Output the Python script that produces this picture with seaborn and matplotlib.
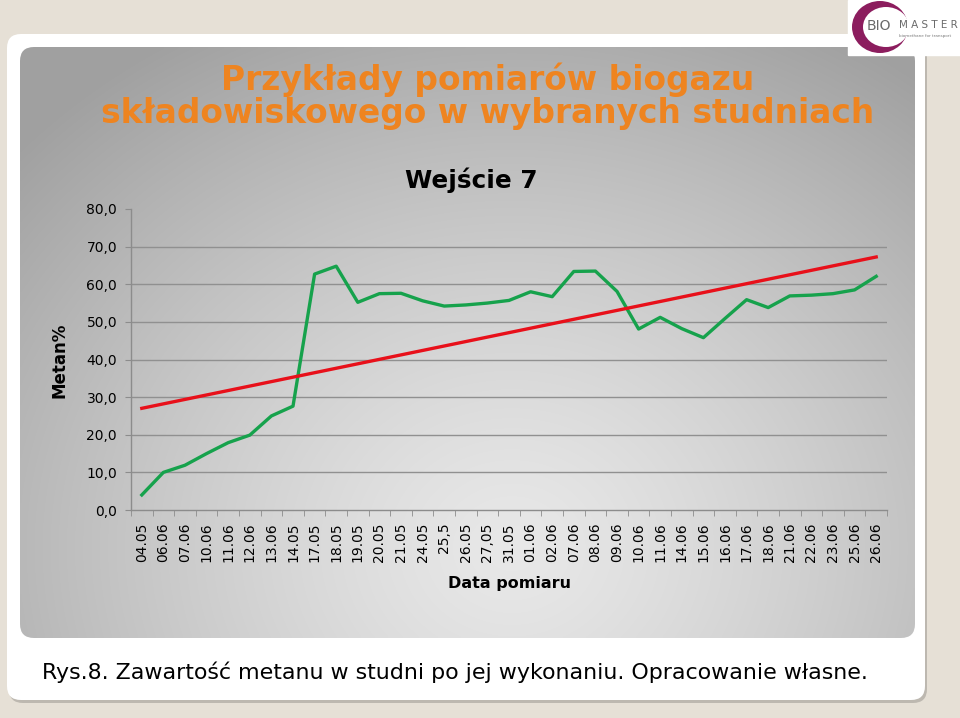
import numpy as np
import pandas as pd
import matplotlib
matplotlib.use("Agg")
import matplotlib.pyplot as plt
from matplotlib.patches import FancyBboxPatch, Rectangle, Ellipse
import seaborn as sns

# ---------------- data ----------------
dates = ["04.05", "06.06", "07.06", "10.06", "11.06", "12.06", "13.06", "14.05",
         "17.05", "18.05", "19.05", "20.05", "21.05", "24.05", "25,5", "26.05",
         "27,05", "31.05", "01.06", "02.06", "07.06", "08.06", "09.06", "10.06",
         "11.06", "14.06", "15.06", "16.06", "17.06", "18.06", "21.06", "22.06",
         "23.06", "25.06", "26.06"]
metan = [4.0, 10.0, 11.9, 15.0, 17.9, 19.9, 25.0, 27.6, 62.7, 64.8, 55.2, 57.5,
         57.6, 55.6, 54.2, 54.5, 55.0, 55.7, 58.0, 56.7, 63.4, 63.5, 58.1, 48.1,
         51.2, 48.2, 45.8, 50.9, 55.9, 53.8, 56.9, 57.1, 57.5, 58.5, 62.1]
y_ticks = [0, 10, 20, 30, 40, 50, 60, 70, 80]

title_main = "Przykłady pomiarów biogazu\nskładowiskowego w wybranych studniach"
chart_title = "Wejście 7"
x_label = "Data pomiaru"
y_label = "Metan%"
caption = "Rys.8. Zawartość metanu w studni po jej wykonaniu. Opracowanie własne."

# ---------------- figure ----------------
W, H = 960, 718
fig = plt.figure(figsize=(W / 100, H / 100), dpi=100)

bg = fig.add_axes([0, 0, 1, 1])
bg.set_xlim(0, W)
bg.set_ylim(H, 0)
bg.axis("off")

# beige slide background
bg.add_patch(Rectangle((0, 0), W, H, color="#e6e0d6", zorder=0))
# white card with shadow
bg.add_patch(FancyBboxPatch((9, 36), 918, 667, boxstyle="round,pad=0,rounding_size=14",
                            fc="#bdb8b0", ec="none", zorder=1))
bg.add_patch(FancyBboxPatch((7, 34), 918, 666, boxstyle="round,pad=0,rounding_size=14",
                            fc="white", ec="none", zorder=2))

# grey gradient panel
panel = FancyBboxPatch((20, 47), 895, 591, boxstyle="round,pad=0,rounding_size=14",
                       fc="none", ec="none", zorder=3)
bg.add_patch(panel)
gx, gy = np.meshgrid(np.linspace(0, 1, 300), np.linspace(0, 1, 200))
d = np.sqrt(((gx - 0.55) / 0.75) ** 2 + ((gy - 0.85) / 1.0) ** 2)
val = 0.91 - 0.28 * np.clip(d, 0, 1) ** 1.3
img = np.dstack([val, val, val])
im = bg.imshow(img, extent=(20, 915, 638, 47), aspect="auto", zorder=3, interpolation="bilinear")
im.set_clip_path(panel)

# logo
bg.add_patch(Rectangle((848, 0), 112, 55, color="white", zorder=4))
bg.add_patch(Ellipse((880, 27), 56, 52, fc="#8c1d5e", ec="none", zorder=5))
bg.add_patch(Ellipse((886, 27), 46, 40, fc="white", ec="none", zorder=5))
bg.text(867, 26, "BIO", fontsize=10, color="#6a6a6a", va="center", ha="left", zorder=6)
bg.text(899, 25, "M A S T E R", fontsize=7.5, color="#6a6a6a", va="center", ha="left", zorder=6)
bg.text(899, 36, "biomethane for transport", fontsize=3.0, color="#7a7a7a", va="center",
        ha="left", zorder=6)

# titles
bg.text(488, 96, title_main, fontsize=23.7, fontweight="bold", color="#ee8420",
        ha="center", va="center", linespacing=1.0, zorder=6)
bg.text(471, 180, chart_title, fontsize=17.8, fontweight="bold", color="black",
        ha="center", va="center", zorder=6)
bg.text(42, 672, caption, fontsize=15.9, color="black", ha="left", va="center", zorder=6)

# ---------------- chart axes ----------------
ax = fig.add_axes([131 / W, 1 - 510 / H, (887 - 131) / W, (510 - 209) / H])
ax.set_facecolor("none")

df = pd.DataFrame({"idx": np.arange(len(dates)), "metan": metan})
sns.lineplot(data=df, x="idx", y="metan", ax=ax, color="#16a24c", lw=2.4, zorder=4)

coef = np.polyfit(df["idx"], df["metan"], 1)
trend = pd.DataFrame({"idx": [0, len(dates) - 1]})
trend["val"] = np.polyval(coef, trend["idx"])
sns.lineplot(data=trend, x="idx", y="val", ax=ax, color="#e8101a", lw=2.4, zorder=5)

ax.set_xlim(-0.5, len(dates) - 0.5)
ax.set_ylim(0, 80)
ax.set_yticks(y_ticks)
ax.set_yticklabels([f"{v:.1f}".replace(".", ",") for v in y_ticks], fontsize=10)
ax.set_xticks(np.arange(len(dates)))
ax.set_xticklabels(dates, rotation=90, fontsize=10)
ax.set_xticks(np.arange(len(dates) + 1) - 0.5, minor=True)
ax.tick_params(axis="x", which="major", length=0, pad=9)
ax.tick_params(axis="x", which="minor", length=4, color="#8c8c8c", direction="out")
ax.tick_params(axis="y", length=4, color="#8c8c8c", pad=6)
for v in y_ticks[1:-1]:
    ax.axhline(v, color="#909090", lw=1.0, zorder=1)
for s in ["top", "right"]:
    ax.spines[s].set_visible(False)
for s in ["left", "bottom"]:
    ax.spines[s].set_color("#8c8c8c")
    ax.spines[s].set_linewidth(1.0)
ax.set_xlabel(x_label, fontsize=11.5, fontweight="bold")
ax.set_ylabel(y_label, fontsize=12, fontweight="bold")
ax.xaxis.set_label_coords((510 - 131) / (887 - 131), -(576 - 510) / (510 - 209))
ax.yaxis.set_label_coords(-(131 - 68) / (887 - 131), (510 - 360) / (510 - 209))

fig.savefig("out.png", dpi=100)
